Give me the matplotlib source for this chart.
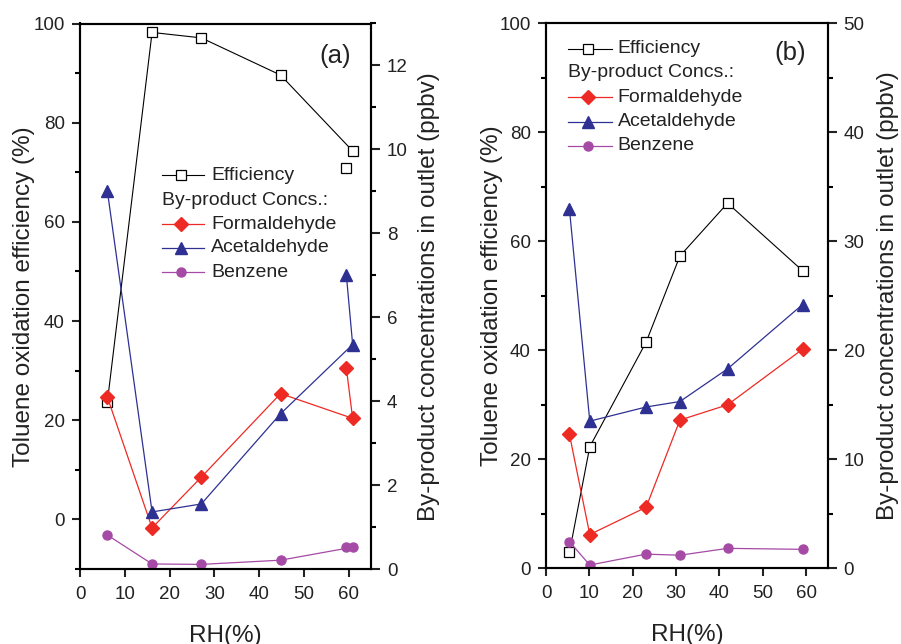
import numpy as np
import matplotlib
matplotlib.use('Agg')
import matplotlib.pyplot as plt
from matplotlib.ticker import MultipleLocator

plt.rcParams['font.family'] = ['Liberation Sans', 'DejaVu Sans']

# panel (a): RH and values (last point RH 59.5 is plotted after 61 in by-product lines)
rh_a = [6.1, 16.1, 27.1, 44.8, 60.9, 59.5]
eff_a = [23.6, 98.2, 97.1, 89.6, 74.3]
eff_a_extra = [70.9]
form_a = [4.10, 0.98, 2.19, 4.18, 3.59, 4.78]
acet_a = [9.02, 1.36, 1.55, 3.70, 5.35, 7.00]
benz_a = [0.81, 0.12, 0.11, 0.21, 0.52, 0.52]

# panel (b)
rh_b = [5.4, 10.1, 23.1, 30.9, 41.9, 59.2]
eff_b = [2.9, 22.3, 41.5, 57.3, 67.0, 54.6]
form_b = [12.3, 3.1, 5.6, 13.6, 15.0, 20.1]
acet_b = [33.0, 13.5, 14.8, 15.3, 18.3, 24.2]
benz_b = [2.45, 0.3, 1.3, 1.2, 1.83, 1.74]

RED = '#ee2a24'
BLUE = '#2e3192'
PURPLE = '#a54aa5'
TXT = '#222222'

fig = plt.figure(figsize=(9.01, 6.44), dpi=100)


def style_axes(ax, ax2):
    for a in (ax, ax2):
        for s in a.spines.values():
            s.set_linewidth(1.5)
    ax.tick_params(axis='y', which='major', direction='out', length=6, width=1.5,
                   labelsize=13.5, colors=TXT, pad=5)
    ax.tick_params(axis='x', which='major', direction='out', length=6, width=1.5,
                   labelsize=13.5, colors=TXT, pad=6)
    ax.tick_params(axis='y', which='minor', direction='out', length=3.5, width=1.5)
    ax2.tick_params(axis='y', which='major', direction='out', length=6.5, width=1.5,
                    labelsize=13.5, colors=TXT, pad=5)
    ax2.tick_params(axis='y', which='minor', direction='out', length=3.5, width=1.5)
    ax.xaxis.set_major_locator(MultipleLocator(10))
    ax.set_xlim(0, 65)
    ax.set_xlabel('RH(%)', fontsize=17.5, color=TXT)
    ax.xaxis.set_label_coords(0.5, -0.103)
    ax.set_ylabel('Toluene oxidation efficiency (%)', fontsize=17.5, color=TXT)
    ax2.set_ylabel('By-product concentrations in outlet (ppbv)', fontsize=17.5, color=TXT)


def legend(ax, x0, x1, xt, ys):
    tr = ax.transAxes
    xm = x0 + (x1 - x0) * 0.45
    ax.plot([x0, x1], [ys[0], ys[0]], color='black', lw=0.8, transform=tr, clip_on=False)
    ax.plot([xm], [ys[0]], 's', ms=7, mfc='white', mec='black', mew=0.9, transform=tr, clip_on=False)
    ax.text(xt, ys[0], 'Efficiency', transform=tr, fontsize=14, va='center', color=TXT)
    ax.text(x0, ys[1], 'By-product Concs.:', transform=tr, fontsize=14, va='center', color=TXT)
    items = [('Formaldehyde', RED, 'D', 7.5), ('Acetaldehyde', BLUE, '^', 8.5), ('Benzene', PURPLE, 'o', 6.5)]
    for (name, c, m, ms), y in zip(items, ys[2:]):
        ax.plot([x0, x1], [y, y], color=c, lw=0.9, transform=tr, clip_on=False)
        ax.plot([xm], [y], m, ms=ms, color=c, transform=tr, clip_on=False)
        ax.text(xt, y, name, transform=tr, fontsize=14, va='center', color=TXT)


# ---------- panel (a) ----------
axa = fig.add_axes([80 / 901, 75 / 644, 291 / 901, 545.5 / 644])
axa2 = axa.twinx()
axa.set_ylim(-10, 100)
axa.yaxis.set_major_locator(MultipleLocator(20))
axa.yaxis.set_minor_locator(MultipleLocator(10))
axa2.set_ylim(0, 13)
axa2.yaxis.set_major_locator(MultipleLocator(2))
axa2.yaxis.set_minor_locator(MultipleLocator(1))

axa.plot(rh_a[:5], eff_a, '-s', color='black', lw=0.8, ms=7, mfc='white', mew=0.9)
axa.plot(rh_a[5:], eff_a_extra, 's', color='black', ms=7, mfc='white', mew=0.9)
axa2.plot(rh_a, form_a, '-D', color=RED, lw=0.9, ms=7.5)
axa2.plot(rh_a, acet_a, '-^', color=BLUE, lw=0.9, ms=8.5)
axa2.plot(rh_a, benz_a, '-o', color=PURPLE, lw=0.9, ms=6.5)

style_axes(axa, axa2)
axa.yaxis.set_label_coords(-0.155, 0.5)
axa2.yaxis.set_label_coords(1.16, 0.5)
axa.text(0.876, 0.94, '(a)', transform=axa.transAxes, fontsize=18.5, ha='center', va='center',
         color=TXT)
legend(axa, 0.282, 0.426, 0.45, [0.722, 0.675, 0.632, 0.589, 0.544])

# ---------- panel (b) ----------
axb = fig.add_axes([546 / 901, 75.7 / 644, 281.7 / 901, 545 / 644])
axb2 = axb.twinx()
axb.set_ylim(0, 100)
axb.yaxis.set_major_locator(MultipleLocator(20))
axb.yaxis.set_minor_locator(MultipleLocator(10))
axb2.set_ylim(0, 50)
axb2.yaxis.set_major_locator(MultipleLocator(10))
axb2.yaxis.set_minor_locator(MultipleLocator(5))

axb.plot(rh_b, eff_b, '-s', color='black', lw=0.8, ms=7, mfc='white', mew=0.9)
axb2.plot(rh_b, form_b, '-D', color=RED, lw=0.9, ms=7.5)
axb2.plot(rh_b, acet_b, '-^', color=BLUE, lw=0.9, ms=8.5)
axb2.plot(rh_b, benz_b, '-o', color=PURPLE, lw=0.9, ms=6.5)

style_axes(axb, axb2)
axb.yaxis.set_label_coords(-0.153, 0.5)
axb2.yaxis.set_label_coords(1.175, 0.5)
axb.text(0.866, 0.946, '(b)', transform=axb.transAxes, fontsize=18.5, ha='center', va='center',
         color=TXT)
legend(axb, 0.078, 0.234, 0.255, [0.953, 0.909, 0.864, 0.819, 0.775])

fig.savefig('out.png', dpi=100)
